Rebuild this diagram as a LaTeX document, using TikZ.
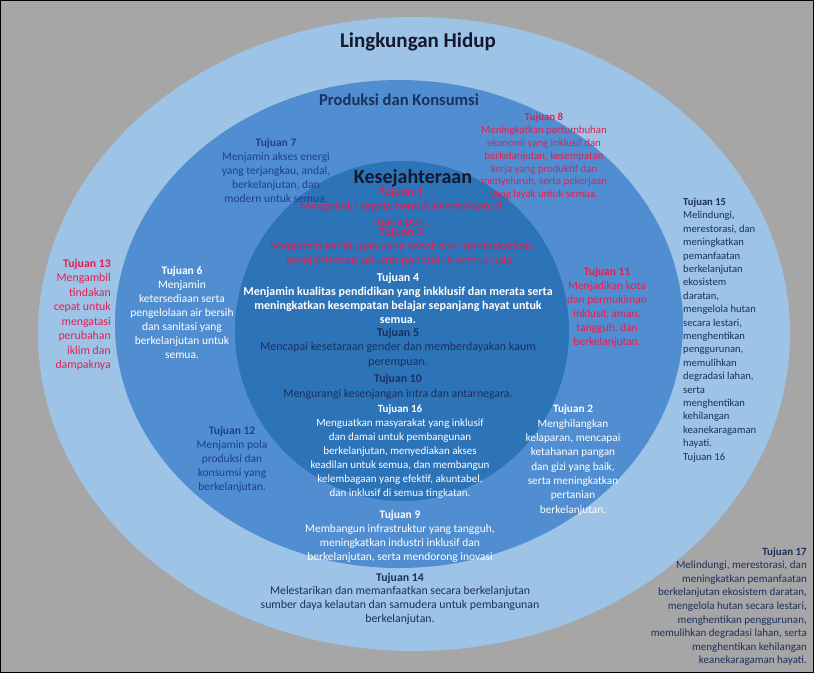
\documentclass[tikz,border=0pt]{standalone}
\usepackage{fontspec}
\setmainfont{Carlito}
\definecolor{bggray}{RGB}{166,166,166}
\definecolor{ringL}{RGB}{157,195,230}
\definecolor{ringM}{RGB}{80,142,209}
\definecolor{ringI}{RGB}{45,115,184}
\definecolor{navyT}{RGB}{28,48,92}
\definecolor{blueT}{RGB}{30,62,145}
\definecolor{darkT}{RGB}{20,24,45}
\definecolor{redT}{RGB}{226,32,82}
\tikzset{
  blk/.style={align=center, inner sep=0pt, font=\fontsize{11.5}{14}\selectfont},
  sideblk/.style={inner sep=0pt, font=\fontsize{10.6}{13.4}\selectfont},
  hdr/.style={inner sep=0pt, font=\bfseries\fontsize{21}{24}\selectfont, text=darkT}
}
\begin{document}
\begin{tikzpicture}[x=1pt,y=-1pt]
\fill[bggray] (0,0) rectangle (814,673);
\useasboundingbox (0,0) rectangle (814,673);
\fill[ringL] (414,334) ellipse [x radius=376pt, y radius=317pt];
\fill[ringM] (399,324) ellipse [x radius=284pt, y radius=244pt];
\fill[ringI] (402,331) ellipse [x radius=167pt, y radius=170pt];
\draw[line width=1.2pt] (0.6,0.6) rectangle (813.4,672.4);

\node[hdr] (lh) at (418,42) {Lingkungan Hidup};
\node[hdr, font=\bfseries\fontsize{16.6}{20}\selectfont, text=navyT] (pk) at (399,100) {Produksi dan Konsumsi};
\node[hdr, font=\bfseries\fontsize{20}{24}\selectfont] (ks) at (413,178) {Kesejahteraan};

\node[blk, text=blueT] (t7) at (276,170.5) {\textbf{Tujuan 7}\\Menjamin akses energi\\yang terjangkau, andal,\\berkelanjutan, dan\\modern untuk semua.};
\node[blk, text=redT, font=\fontsize{10.8}{12.8}\selectfont] (t8) at (544,156.5) {\textbf{Tujuan 8}\\Meningkatkan pertumbuhan\\ekonomi yang inklusif dan\\berkelanjutan, kesempatan\\kerja yang produktif dan\\menyeluruh, serta pekerjaan\\yang layak untuk semua.};
\node[blk, text=redT, font=\fontsize{12.5}{14.5}\selectfont] (t1) at (401,207.5) {\textbf{Tujuan 1}\\Mengakhiri segala bentuk kemiskinan di\\mana pun.};
\node[blk, text=redT, font=\fontsize{12.5}{14}\selectfont] (t3) at (401,247) {\textbf{Tujuan 3}\\Menjamin kehidupan yang sehat dan meningkatkan\\kesejahteraan seluruh penduduk semua usia.};
\node[blk, text=white, font=\bfseries\fontsize{12}{14}\selectfont] (t4) at (398,298) {Tujuan 4\\Menjamin kualitas pendidikan yang inkklusif dan merata serta\\meningkatkan kesempatan belajar sepanjang hayat untuk\\semua.};
\node[blk, text=navyT, font=\fontsize{12}{14.5}\selectfont] (t5) at (398,347.5) {\textbf{Tujuan 5}\\Mencapai kesetaraan gender dan memberdayakan kaum\\perempuan.};
\node[blk, text=navyT, font=\fontsize{11.8}{15.5}\selectfont] (t10) at (398,387) {\textbf{Tujuan 10}\\Mengurangi kesenjangan intra dan antarnegara.};
\node[blk, text=white, font=\fontsize{11}{14}\selectfont] (t16) at (400,452) {\textbf{Tujuan 16}\\Menguatkan masyarakat yang inklusif\\dan damai untuk pembangunan\\berkelanjutan, menyediakan akses\\keadilan untuk semua, dan membangun\\kelembagaan yang efektif, akuntabel,\\dan inklusif di semua tingkatan.};
\node[blk, text=white] (t9) at (400,536) {\textbf{Tujuan 9}\\Membangun infrastruktur yang tangguh,\\meningkatkan industri inklusif dan\\berkelanjutan, serta mendorong inovasi};
\node[blk, text=navyT, font=\fontsize{11.8}{13.7}\selectfont] (t14) at (400,598.5) {\textbf{Tujuan 14}\\Melestarikan dan memanfaatkan secara berkelanjutan\\sumber daya kelautan dan samudera untuk pembangunan\\berkelanjutan.};
\node[blk, text=white] (t6) at (182,313) {\textbf{Tujuan 6}\\Menjamin\\ketersediaan serta\\pengelolaan air bersih\\dan sanitasi yang\\berkelanjutan untuk\\semua.};
\node[blk, text=redT, align=right, anchor=east, font=\fontsize{11.8}{14.5}\selectfont] (t13) at (111,315) {\textbf{Tujuan 13}\\Mengambil\\tindakan\\cepat untuk\\mengatasi\\perubahan\\iklim dan\\dampaknya};
\node[blk, text=redT] (t11) at (607,307) {\textbf{Tujuan 11}\\Menjadikan kota\\dan permukiman\\inklusif, aman,\\tangguh, dan\\berkelanjutan.};
\node[blk, text=blueT] (t12) at (232,459.5) {\textbf{Tujuan 12}\\Menjamin pola\\produksi dan\\konsumsi yang\\berkelanjutan.};
\node[blk, text=white, font=\fontsize{11.3}{14.3}\selectfont] (t2) at (573,460) {\textbf{Tujuan 2}\\Menghilangkan\\kelaparan, mencapai\\ketahanan pangan\\dan gizi yang baik,\\serta meningkatkan\\pertanian\\berkelanjutan.};
\node[sideblk, text=navyT, align=left, anchor=west] (t15) at (683,330) {\textbf{Tujuan 15}\\Melindungi,\\merestorasi, dan\\meningkatkan\\pemanfaatan\\berkelanjutan\\ekosistem\\daratan,\\mengelola hutan\\secara lestari,\\menghentikan\\penggurunan,\\memulihkan\\degradasi lahan,\\serta\\menghentikan\\kehilangan\\keanekaragaman\\hayati.\\Tujuan 16};
\node[sideblk, text=navyT, align=right, anchor=east, font=\fontsize{11}{13.6}\selectfont] (t17) at (807,606.5) {\textbf{Tujuan 17}\\Melindungi, merestorasi, dan\\meningkatkan pemanfaatan\\berkelanjutan ekosistem daratan,\\mengelola hutan secara lestari,\\menghentikan penggurunan,\\memulihkan degradasi lahan, serta\\menghentikan kehilangan\\keanekaragaman hayati.};
\end{tikzpicture}
\end{document}
